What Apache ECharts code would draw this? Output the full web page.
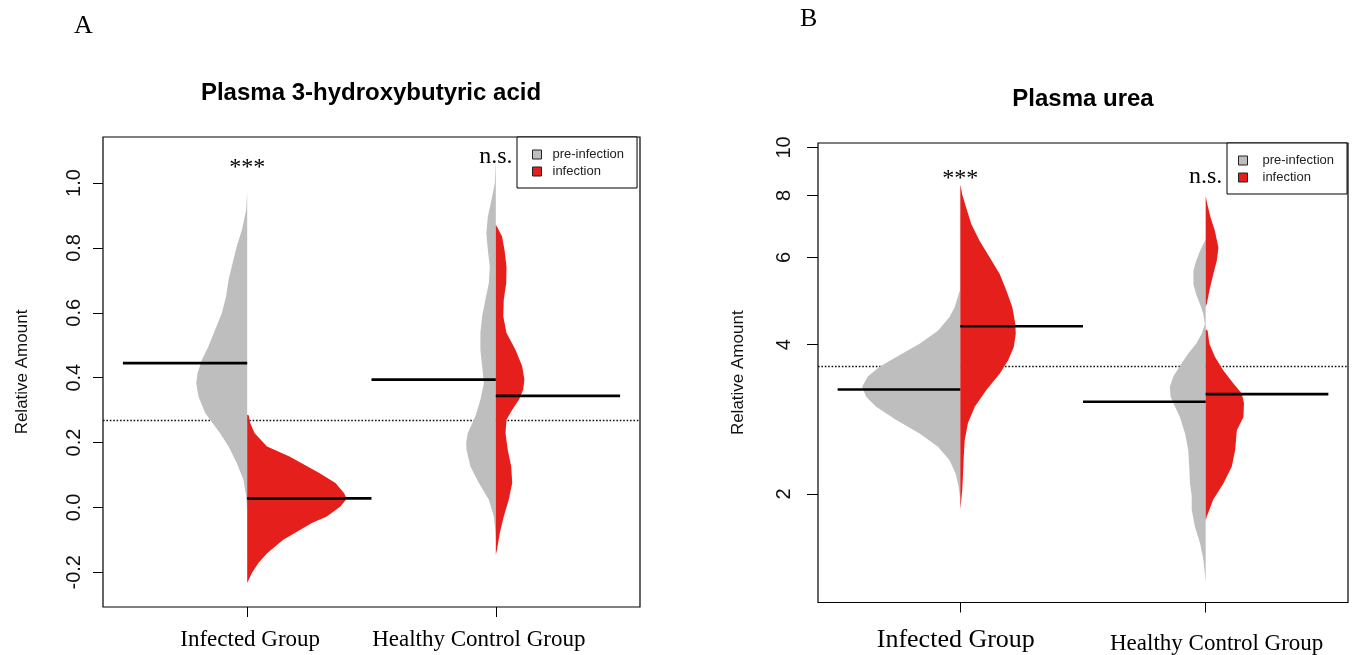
<!DOCTYPE html>
<html>
<head>
<meta charset="utf-8">
<script src="https://cdn.jsdelivr.net/npm/echarts@6/dist/echarts.min.js"></script>
<style>
html, body { margin: 0; padding: 0; background: #fff; }
#chart { width: 1354px; height: 655px; }
</style>
</head>
<body>
<div id="chart"></div>
<script>
// groups on the x axis
const groups = ['Infected Group', 'Healthy Control Group'];
const groupPos = [1, 2];
const sigLabels = ['***', 'n.s.'];

// panel A - plasma 3-hydroxybutyric acid
// bean outlines: [value, half width], top to bottom
const hbaPreInfected = [[0.975,0],[0.918,0.004],[0.856,0.021],[0.805,0.042],[0.743,0.062],[0.702,0.075],[0.650,0.085],[0.599,0.102],[0.548,0.129],[0.496,0.156],[0.455,0.182],[0.414,0.200],[0.383,0.205],[0.342,0.196],[0.291,0.169],[0.270,0.149],[0.229,0.109],[0.188,0.075],[0.137,0.042],[0.085,0.015],[0.034,0.004],[-0.017,0]];
const hbaInfInfected = [[0.286,0],[0.284,0.006],[0.260,0.012],[0.229,0.030],[0.188,0.080],[0.157,0.170],[0.106,0.290],[0.075,0.355],[0.044,0.390],[0.027,0.400],[0.003,0.375],[-0.028,0.320],[-0.048,0.260],[-0.075,0.200],[-0.100,0.145],[-0.141,0.080],[-0.171,0.045],[-0.202,0.019],[-0.233,0]];
const hbaPreHealthy = [[1.075,0],[1.000,0.004],[0.949,0.017],[0.897,0.032],[0.846,0.038],[0.794,0.032],[0.743,0.024],[0.692,0.028],[0.640,0.042],[0.589,0.055],[0.538,0.062],[0.486,0.062],[0.435,0.055],[0.383,0.048],[0.332,0.062],[0.281,0.082],[0.229,0.113],[0.199,0.119],[0.178,0.118],[0.126,0.102],[0.075,0.068],[0.024,0.028],[-0.028,0.008],[-0.079,0.001],[-0.110,0]];
const hbaInfHealthy = [[0.871,0],[0.865,0.005],[0.835,0.025],[0.794,0.035],[0.743,0.043],[0.692,0.042],[0.640,0.032],[0.589,0.030],[0.538,0.043],[0.486,0.079],[0.435,0.106],[0.394,0.115],[0.363,0.110],[0.332,0.093],[0.301,0.066],[0.270,0.043],[0.229,0.039],[0.178,0.048],[0.126,0.062],[0.075,0.066],[0.024,0.052],[-0.028,0.032],[-0.079,0.016],[-0.130,0.005],[-0.146,0]];
const hbaMedianPre = [0.445, 0.394];
const hbaMedianInf = [0.028, 0.344];
const hbaOverall = 0.267;
const hbaSigY = [1.047, 1.082];
const hbaTicks = [-0.2, 0, 0.2, 0.4, 0.6, 0.8, 1.0];

// panel B - plasma urea (log scale)
const ureaPreInfected = [[5.18,0],[4.76,0.023],[4.55,0.044],[4.27,0.091],[4.02,0.166],[3.78,0.261],[3.61,0.329],[3.45,0.377],[3.29,0.400],[3.14,0.384],[3.00,0.343],[2.82,0.261],[2.65,0.166],[2.49,0.091],[2.34,0.044],[2.20,0.019],[2.07,0.007],[1.95,0]];
const ureaInfInfected = [[8.42,0],[8.04,0.008],[7.56,0.024],[7.00,0.045],[6.48,0.079],[6.00,0.120],[5.55,0.161],[5.14,0.188],[4.76,0.212],[4.41,0.224],[4.21,0.226],[3.96,0.218],[3.72,0.195],[3.50,0.161],[3.24,0.106],[3.00,0.059],[2.78,0.031],[2.57,0.018],[2.38,0.014],[2.20,0.011],[2.04,0.008],[1.86,0]];
const ureaPreHealthy = [[6.53,0],[6.19,0.023],[5.90,0.039],[5.64,0.050],[5.30,0.050],[5.06,0.039],[4.83,0.023],[4.62,0.010],[4.41,0.003],[4.21,0.016],[4.02,0.039],[3.84,0.071],[3.61,0.107],[3.45,0.132],[3.29,0.146],[3.14,0.143],[3.00,0.125],[2.86,0.105],[2.65,0.084],[2.45,0.071],[2.27,0.067],[2.10,0.064],[1.98,0.057],[1.86,0.057],[1.72,0.044],[1.59,0.023],[1.48,0.010],[1.39,0.004],[1.33,0]];
const ureaInfHealthy = [[7.97,0],[7.67,0.007],[7.22,0.020],[6.78,0.038],[6.28,0.052],[5.90,0.045],[5.55,0.031],[5.22,0.018],[4.83,0.004],[4.78,0],[4.30,0],[4.27,0.008],[4.02,0.015],[3.78,0.038],[3.55,0.072],[3.34,0.113],[3.19,0.147],[3.05,0.156],[2.86,0.154],[2.69,0.127],[2.45,0.120],[2.27,0.106],[2.10,0.072],[1.95,0.031],[1.80,0.004],[1.77,0]];
const ureaMedianPre = [3.25, 3.07];
const ureaMedianInf = [4.36, 3.18];
const ureaOverall = 3.62;
const ureaSigY = [8.65, 8.72];
const ureaTicks = [2, 4, 6, 8, 10];

const GREY = '#bebebe';
const RED = '#e41f1c';
const SANS = '"Liberation Sans", Arial, sans-serif';
const SERIF = '"Liberation Serif", "Times New Roman", serif';
const beanLineLen = 0.5;

// one half of a bean (side -1 = left, 1 = right) plus its median line
function beanHalf(profiles, side) {
  return function (params, api) {
    const prof = profiles[params.dataIndex];
    const x = api.value(0);
    const pts = [api.coord([x, prof[0][0]])];
    prof.forEach(p => pts.push(api.coord([x + side * p[1], p[0]])));
    pts.push(api.coord([x, prof[prof.length - 1][0]]));
    const a = api.coord([x, api.value(1)]);
    const b = api.coord([x + side * beanLineLen, api.value(1)]);
    return {
      type: 'group',
      children: [
        { type: 'polygon', shape: { points: pts }, style: { fill: api.visual('color') } },
        { type: 'line', z2: 10, shape: { x1: a[0], y1: a[1], x2: b[0], y2: b[1] },
          style: { stroke: '#000', lineWidth: 2.6 } }
      ]
    };
  };
}

function sigText(params, api) {
  const p = api.coord([api.value(0), api.value(1)]);
  return {
    type: 'text', x: p[0], y: p[1],
    style: { text: sigLabels[params.dataIndex], align: 'center', verticalAlign: 'middle',
             font: '24px ' + SERIF, fill: '#000' }
  };
}

function overallLine(v) {
  return {
    silent: true, symbol: 'none', z: 1, label: { show: false },
    lineStyle: { color: '#111', type: [1.6, 1.8], width: 1.3 },
    data: [{ yAxis: v }]
  };
}

function xAxisFor(gridIndex, rich) {
  return {
    gridIndex, type: 'value', min: 0.42, max: 2.58, position: 'bottom',
    axisLine: { show: false, onZero: false }, splitLine: { show: false },
    axisTick: { show: true, customValues: groupPos, length: 10, lineStyle: { color: '#000', width: 1 } },
    axisLabel: {
      customValues: groupPos, margin: 20,
      formatter: v => (v === 1 ? '{a|' + groups[0] + '}' : '{b|' + groups[1] + '}'),
      rich
    }
  };
}

function yAxisLabel(ticks, margin, fmt) {
  return { customValues: ticks, rotate: 90, margin, formatter: fmt,
           fontFamily: SANS, fontSize: 20, color: '#111' };
}

const chart = echarts.init(document.getElementById('chart'));
chart.setOption({
  animation: false,
  backgroundColor: '#fff',
  title: [
    { text: 'Plasma 3-hydroxybutyric acid', left: 366, top: 76, textAlign: 'center',
      textStyle: { fontFamily: SANS, fontSize: 24, fontWeight: 'bold', color: '#000' } },
    { text: 'Plasma urea', left: 1078, top: 82, textAlign: 'center',
      textStyle: { fontFamily: SANS, fontSize: 24, fontWeight: 'bold', color: '#000' } }
  ],
  graphic: [
    { type: 'text', left: 74, top: 13, style: { text: 'A', font: '26px ' + SERIF, fill: '#000' } },
    { type: 'text', left: 800, top: 6, style: { text: 'B', font: '26px ' + SERIF, fill: '#000' } }
  ],
  legend: [
    { orient: 'vertical', left: 517, top: 137, padding: [11, 13, 10, 15], itemGap: 4,
      itemWidth: 9, itemHeight: 9, icon: 'rect', selectedMode: false,
      borderColor: '#000', borderWidth: 1, backgroundColor: '#fff', borderRadius: 0,
      itemStyle: { borderColor: '#222', borderWidth: 1 },
      textStyle: { fontFamily: SANS, fontSize: 13, color: '#222', lineHeight: 13, padding: [0, 0, 0, 6] },
      data: ['pre-infection', 'infection'] },
    { orient: 'vertical', left: 1227, top: 143, padding: [11, 13, 10, 11], itemGap: 4,
      itemWidth: 9, itemHeight: 9, icon: 'rect', selectedMode: false,
      borderColor: '#000', borderWidth: 1, backgroundColor: '#fff', borderRadius: 0,
      itemStyle: { borderColor: '#222', borderWidth: 1 },
      textStyle: { fontFamily: SANS, fontSize: 13, color: '#222', lineHeight: 13, padding: [0, 0, 0, 10] },
      data: ['pre-infection', 'infection'] }
  ],
  grid: [
    { left: 103, top: 137, width: 537, height: 470, show: true, borderColor: '#000', borderWidth: 1.2 },
    { left: 818, top: 143, width: 530, height: 462, show: true, borderColor: '#000', borderWidth: 1.2 }
  ],
  xAxis: [
    xAxisFor(0, {
      a: { fontFamily: SERIF, fontSize: 23, color: '#000', lineHeight: 26, padding: [0, 0, 0, 6] },
      b: { fontFamily: SERIF, fontSize: 23, color: '#000', lineHeight: 26, padding: [0, 34, 0, 0] }
    }),
    xAxisFor(1, {
      a: { fontFamily: SERIF, fontSize: 26, color: '#000', lineHeight: 28, padding: [8, 9, 0, 0] },
      b: { fontFamily: SERIF, fontSize: 23, color: '#000', lineHeight: 26, padding: [16, 0, 0, 22] }
    })
  ],
  yAxis: [
    { gridIndex: 0, type: 'value', min: -0.307, max: 1.142,
      axisLine: { show: false }, splitLine: { show: false },
      axisTick: { customValues: hbaTicks, length: 10, lineStyle: { color: '#000' } },
      axisLabel: yAxisLabel(hbaTicks, 19, v => v.toFixed(1)),
      name: 'Relative Amount', nameLocation: 'middle', nameGap: 72,
      nameTextStyle: { fontFamily: SANS, fontSize: 17, color: '#111' } },
    { gridIndex: 1, type: 'log', logBase: 10, min: 1.208, max: 10.21,
      axisLine: { show: false }, splitLine: { show: false }, minorTick: { show: false },
      axisTick: { customValues: ureaTicks, length: 11, lineStyle: { color: '#000' } },
      axisLabel: yAxisLabel(ureaTicks, 24, v => String(Math.round(v))),
      name: 'Relative Amount', nameLocation: 'middle', nameGap: 71,
      nameTextStyle: { fontFamily: SANS, fontSize: 17, color: '#111' } }
  ],
  series: [
    { type: 'custom', name: 'pre-infection', xAxisIndex: 0, yAxisIndex: 0, z: 2,
      itemStyle: { color: GREY },
      data: groupPos.map((x, i) => [x, hbaMedianPre[i]]),
      renderItem: beanHalf([hbaPreInfected, hbaPreHealthy], -1),
      markLine: overallLine(hbaOverall) },
    { type: 'custom', name: 'infection', xAxisIndex: 0, yAxisIndex: 0, z: 2,
      itemStyle: { color: RED },
      data: groupPos.map((x, i) => [x, hbaMedianInf[i]]),
      renderItem: beanHalf([hbaInfInfected, hbaInfHealthy], 1) },
    { type: 'custom', name: 'sigA', xAxisIndex: 0, yAxisIndex: 0, z: 3, silent: true,
      data: groupPos.map((x, i) => [x, hbaSigY[i]]), renderItem: sigText },
    { type: 'custom', name: 'pre-infection', xAxisIndex: 1, yAxisIndex: 1, z: 2,
      itemStyle: { color: GREY },
      data: groupPos.map((x, i) => [x, ureaMedianPre[i]]),
      renderItem: beanHalf([ureaPreInfected, ureaPreHealthy], -1),
      markLine: overallLine(ureaOverall) },
    { type: 'custom', name: 'infection', xAxisIndex: 1, yAxisIndex: 1, z: 2,
      itemStyle: { color: RED },
      data: groupPos.map((x, i) => [x, ureaMedianInf[i]]),
      renderItem: beanHalf([ureaInfInfected, ureaInfHealthy], 1) },
    { type: 'custom', name: 'sigB', xAxisIndex: 1, yAxisIndex: 1, z: 3, silent: true,
      data: groupPos.map((x, i) => [x, ureaSigY[i]]), renderItem: sigText }
  ]
});
</script>
</body>
</html>
